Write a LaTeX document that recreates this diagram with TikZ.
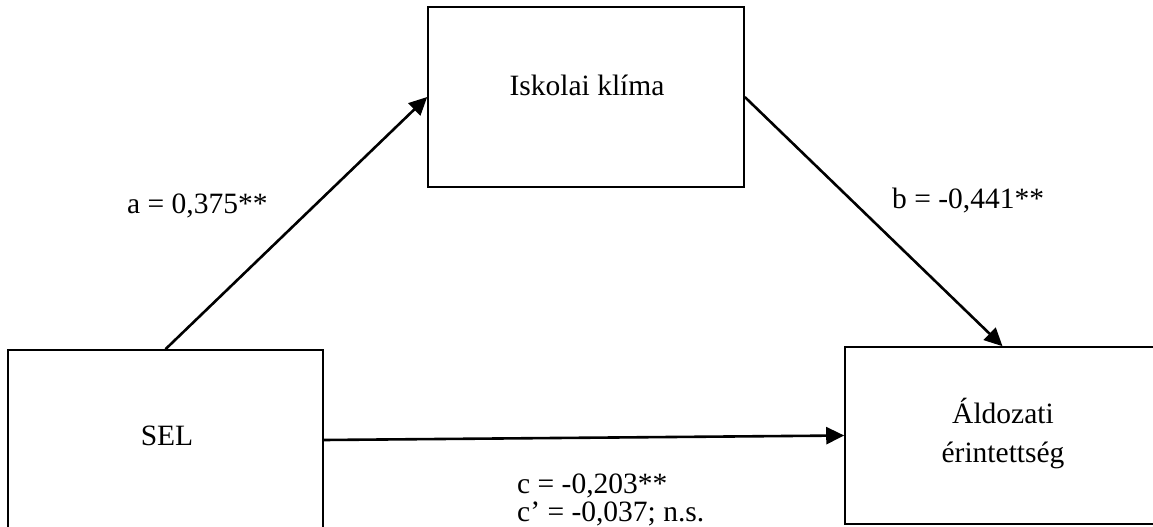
\documentclass[tikz,border=0pt]{standalone}
\usepackage{fontspec}
\setmainfont{Liberation Serif}
\usetikzlibrary{arrows.meta}
\begin{document}
\begin{tikzpicture}[x=1pt,y=-1pt,
  box/.style={draw=black,line width=1.6pt,rectangle,inner sep=0pt},
  lbl/.style={font=\fontsize{29.5}{33}\selectfont,inner sep=0pt},
  arr/.style={line width=2.6pt,-{Triangle[length=18pt,width=17pt]}}]
\useasboundingbox (0,0) rectangle (1153,527);
\clip (0,0) rectangle (1153,527);
% boxes
\node[box,minimum width=316pt,minimum height=180pt] (klima) at (586,97) {};
\node[box,minimum width=315pt,minimum height=180pt] (sel) at (165.5,440) {};
\node[box,minimum width=315pt,minimum height=177pt] (ald) at (1002.5,435.5) {};
% texts
\node[lbl,anchor=base] (tklima) at (587,95) {Iskolai klíma};
\node[lbl,anchor=base] (tsel) at (167,445) {SEL};
\node[lbl,anchor=base,align=center,font=\fontsize{29.5}{39}\selectfont] (tald) at (1003,462) {Áldozati\\érintettség};
\node[lbl,anchor=base west] (la) at (127,213) {a = 0,375**};
\node[lbl,anchor=base west] (lb) at (892,208) {b = -0,441**};
\node[lbl,anchor=base west,align=left,font=\fontsize{29.5}{28}\selectfont] (lc) at (517,521) {c = -0,203**\\c’ = -0,037; n.s.};
% arrows
\draw[arr] (sel.north) -- (klima.west);
\draw[arr] (klima.east) -- (ald.north);
\draw[arr] (sel.east) -- (ald.west);
\end{tikzpicture}
\end{document}
